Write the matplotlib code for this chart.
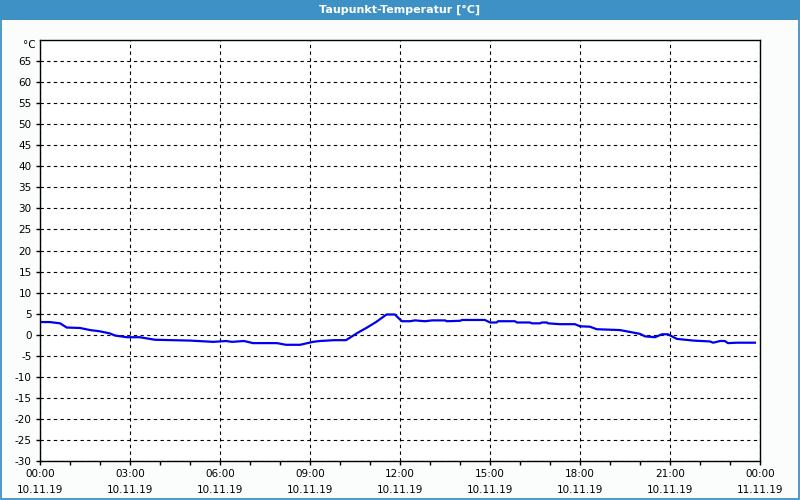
import matplotlib
matplotlib.use('Agg')
import matplotlib.pyplot as plt
from matplotlib.patches import Rectangle
from matplotlib.ticker import MultipleLocator

# Taupunkt values (hours since 10.11.19 00:00, degC)
hours = [0.0, 0.33, 0.67, 0.89, 1.33, 1.67, 2.0, 2.33, 2.5, 2.9, 3.33, 3.83,
         5.0, 5.78, 6.2, 6.4, 6.8, 7.1, 7.9, 8.2, 8.67, 9.1, 9.33, 9.8, 10.2,
         10.6, 10.9, 11.2, 11.55, 11.83, 12.0, 12.07, 12.33, 12.5, 12.83,
         13.07, 13.5, 13.56, 14.0, 14.07, 14.83, 15.0, 15.22, 15.27, 15.83,
         15.9, 16.33, 16.4, 16.67, 16.73, 16.9, 16.93, 17.33, 17.83, 18.0,
         18.33, 18.56, 19.33, 19.78, 20.0, 20.17, 20.5, 20.73, 20.93, 21.23,
         21.78, 22.33, 22.44, 22.67, 22.83, 22.93, 23.22, 23.83]
dewpoint = [3.0, 3.0, 2.7, 1.7, 1.6, 1.1, 0.8, 0.3, -0.2, -0.6, -0.6, -1.2,
            -1.4, -1.7, -1.5, -1.7, -1.5, -2.0, -2.0, -2.4, -2.4, -1.7, -1.5,
            -1.3, -1.3, 0.5, 1.7, 3.0, 4.8, 4.8, 3.6, 3.2, 3.2, 3.4, 3.2,
            3.4, 3.4, 3.2, 3.3, 3.5, 3.5, 2.9, 2.9, 3.2, 3.2, 2.9, 2.9, 2.7,
            2.7, 2.9, 2.9, 2.7, 2.5, 2.5, 2.0, 1.9, 1.3, 1.1, 0.5, 0.2, -0.4,
            -0.6, 0.1, 0.1, -1.0, -1.4, -1.6, -1.9, -1.5, -1.5, -2.0, -1.9,
            -1.9]

tick_hours = [0, 3, 6, 9, 12, 15, 18, 21, 24]
tick_times = ['00:00', '03:00', '06:00', '09:00', '12:00', '15:00', '18:00', '21:00', '00:00']
tick_dates = ['10.11.19'] * 8 + ['11.11.19']
y_ticks = list(range(-30, 70, 5))

title = 'Taupunkt-Temperatur [°C]'
bar_blue = '#3d91c4'

plt.rcParams['font.family'] = ['Tahoma', 'DejaVu Sans']

fig = plt.figure(figsize=(8, 5), dpi=100, facecolor='#fafdfc')

# title bar and window frame
fig.patches.append(Rectangle((0, 0.96), 1, 0.04, transform=fig.transFigure,
                             facecolor=bar_blue, edgecolor='none'))
fig.patches.append(Rectangle((0.001, 0.002), 0.998, 0.996, transform=fig.transFigure,
                             facecolor='none', edgecolor=bar_blue, linewidth=1.3))
fig.text(0.5, 0.98, title, color='white', fontsize=8, fontweight='bold',
         ha='center', va='center')

ax = fig.add_axes([0.05, 0.078, 0.9, 0.842])
ax.set_facecolor('white')
ax.plot(hours, dewpoint, color='#0000f0', linewidth=1.6)

ax.set_xlim(0, 24)
ax.set_ylim(-30, 70)
ax.set_xticks(tick_hours)
ax.set_xticklabels([t + '\n' + d for t, d in zip(tick_times, tick_dates)],
                   fontsize=7.5, linespacing=1.7)
ax.xaxis.set_minor_locator(MultipleLocator(1))
ax.set_yticks(y_ticks)
ax.set_yticklabels([str(v) for v in y_ticks], fontsize=7.5)

ax.tick_params(axis='both', which='both', direction='out', length=3, width=1,
               color='black', pad=3)
ax.grid(True, which='major', color='black', linestyle=(0, (3, 3)), linewidth=0.8)
for s in ax.spines.values():
    s.set_color('black')
    s.set_linewidth(1)

ax.text(-0.006, 1.0, '°C', transform=ax.transAxes, ha='right', va='top', fontsize=7.5)

fig.savefig('out.png', dpi=100, facecolor=fig.get_facecolor())
